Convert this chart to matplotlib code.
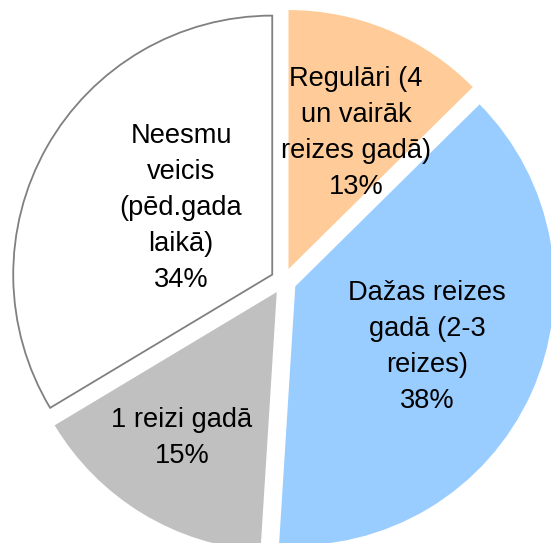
import numpy as np
import matplotlib.pyplot as plt

plt.rcParams['font.family'] = ['Liberation Sans', 'DejaVu Sans']

labels = ['Regulāri (4\nun vairāk\nreizes gadā)', 'Dažas reizes\ngadā (2-3\nreizes)',
          '1 reizi gadā', 'Neesmu\nveicis\n(pēd.gada\nlaikā)']
values = [12.6, 38.4, 15.4, 33.6]
colors = ['#FFCC99', '#99CCFF', '#C0C0C0', '#FFFFFF']
# label placement: distance from centre and angle shift from slice middle
label_r = [0.636, 0.610, 0.722, 0.486]
label_shift = [-3.4, -0.2, -1.6, -6.0]

fig = plt.figure(figsize=(5.51, 5.43), dpi=100)
ax = fig.add_axes([0, 0, 1, 1])

wedges, _ = ax.pie(values, colors=colors, startangle=90, counterclock=False,
                   explode=[0.05] * 4, radius=1.0,
                   wedgeprops=dict(linewidth=0))
wedges[3].set_edgecolor('#808080')
wedges[3].set_linewidth(1.3)

total = sum(values)
start = 90.0
for lab, v, d, s in zip(labels, values, label_r, label_shift):
    mid = np.deg2rad(start - v / total * 360 / 2 + s)
    start -= v / total * 360
    ax.text(d * np.cos(mid), d * np.sin(mid), f'{lab}\n{round(v)}%',
            ha='center', va='center', fontsize=19.6, linespacing=1.5)

r_px, cx, cy = 259, 283.5, 281
ax.set_xlim(-cx / r_px, (551 - cx) / r_px)
ax.set_ylim(-(543 - cy) / r_px, cy / r_px)
ax.set_aspect('auto')
ax.axis('off')

fig.savefig('out.png', dpi=100)
